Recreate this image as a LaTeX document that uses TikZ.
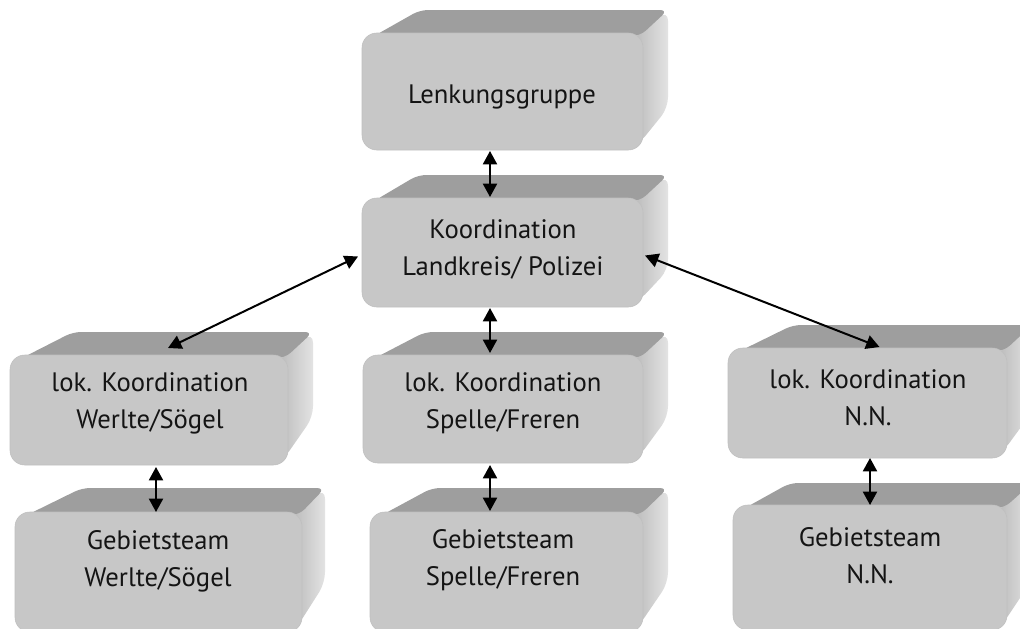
\documentclass[tikz,border=0pt]{standalone}
\usepackage{fontspec}
\setmainfont{PT Sans}
\usetikzlibrary{arrows.meta,calc}
\tikzset{
  frontface/.style={draw=black!25, line width=0.4pt, fill=black!22, rounded corners=11pt, inner sep=0pt, outer sep=0pt},
  topface/.style={fill=black!38, rounded corners=6pt},
  sideface/.style={left color=black!27, right color=black!11, rounded corners=8pt},
  boxtext/.style={font=\fontsize{20pt}{27.75pt}\selectfont, align=center, text=black!92, inner sep=0pt},
  link/.style={<->, >={Triangle[length=10pt,width=10.5pt]}, line width=1.5pt},
}
% extruded slab: #1 name, #2-#5 front face (left, top, right, bottom),
% #6-#9 receding back face (left, top, right, bottom); units are pixels, y downwards
\newcommand{\slab}[9]{%
  \path[sideface] (#4-10,#3+4) -- (#8,#7) -- (#8,#9) -- (#4-5,#5-5) -- cycle;
  \path[topface] (#2+12,#3+3) -- (#6,#7) -- (#8,#7) -- (#4-3,#3+3) -- cycle;
  \node[frontface, minimum width={(#4-#2)*0.75pt}, minimum height={(#5-#3)*0.75pt}] (#1) at ({(#2+#4)/2},{(#3+#5)/2}) {};
}
\begin{document}
\begin{tikzpicture}[x=0.75pt,y=-0.75pt]
\useasboundingbox (0,0) rectangle (1020,628);
\clip (0,0) rectangle (1020,628);

% slabs
\slab{lenk}{362}{33}{643}{150}{420}{10}{668}{108}
\slab{koord}{362}{198}{643}{307}{418}{175}{668}{270}
\slab{lokw}{10}{355}{288}{465}{73}{332}{313}{417}
\slab{loks}{363}{355}{643}{463}{425}{332}{668}{417}
\slab{lokn}{728}{348}{1007}{458}{793}{325}{1032}{412}
\slab{gebw}{15}{512}{302}{632}{82}{488}{325}{583}
\slab{gebs}{370}{512}{643}{632}{432}{488}{668}{583}
\slab{gebn}{733}{505}{1007}{630}{790}{483}{1032}{580}

% texts
\node[boxtext] (lenk-t) at (502,97) {Lenkungsgruppe};
\node[boxtext] (koord-t) at (503,249) {Koordination\\Landkreis/ Polizei};
\node[boxtext] (lokw-t) at (150,403) {lok. Koordination\\Werlte/Sögel};
\node[boxtext] (loks-t) at (503,403) {lok. Koordination\\Spelle/Freren};
\node[boxtext] (lokn-t) at (868,398) {lok. Koordination\\N.N.};
\node[boxtext] (gebw-t) at (158,561) {Gebietsteam\\Werlte/Sögel};
\node[boxtext] (gebs-t) at (503,560) {Gebietsteam\\Spelle/Freren};
\node[boxtext] (gebn-t) at (870,556) {Gebietsteam\\N.N.};

% connections
\draw[link] ($(lenk.south)+(-12.5,1)$) -- ($(koord.north)+(-12.5,-1)$);
\draw[link] ($(koord.south)+(-12.5,1)$) -- ($(loks.north)+(-13,-2)$);
\draw[link] ($(loks.south)+(-13,2)$) -- ($(gebs.north)+(-16.5,-1)$);
\draw[link] ($(lokw.south)+(7,2)$) -- ($(gebw.north)+(-2.5,0)$);
\draw[link] ($(lokn.south)+(2.5,0)$) -- ($(gebn.north)+(0,0)$);
\draw[link] ($(koord.west)+(-4,4)$) -- ($(lokw.north)+(19,-7)$);
\draw[link] ($(koord.east)+(2,3)$) -- ($(lokn.north)+(12,-1)$);
\end{tikzpicture}
\end{document}
